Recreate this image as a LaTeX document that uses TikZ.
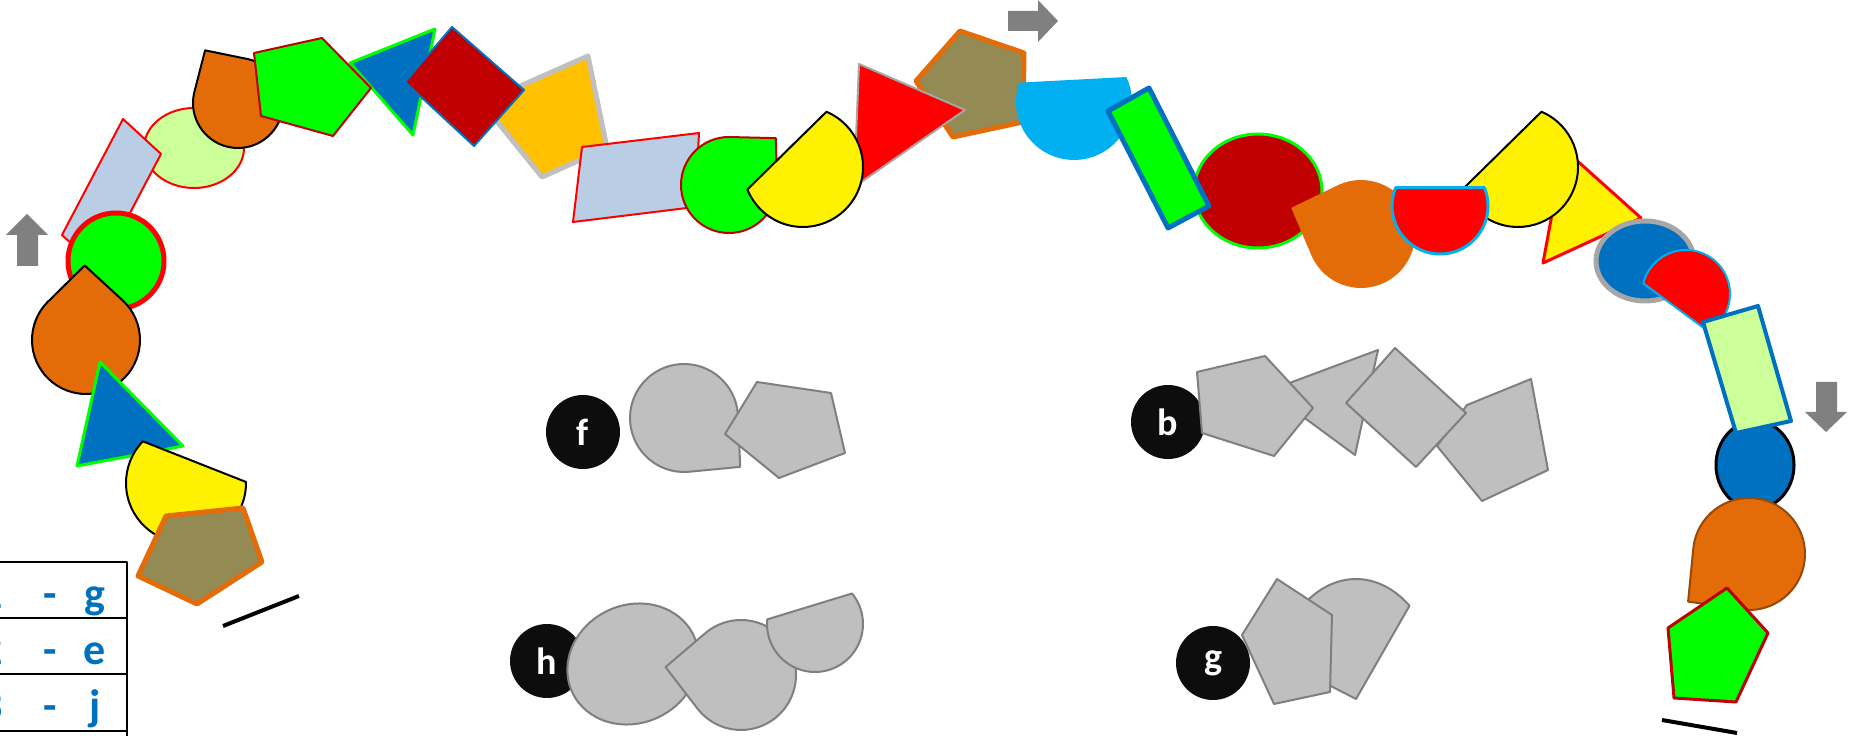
\documentclass[tikz,border=0pt]{standalone}
\usepackage{fontspec}
\setmainfont{Carlito}
\usepackage{tikz}
\usepackage{xcolor}

\definecolor{lineblue}{HTML}{0070C0}
\definecolor{brightgreen}{HTML}{00FF00}
\definecolor{burnt}{HTML}{E36C09}
\definecolor{khaki}{HTML}{948A54}
\definecolor{deepred}{HTML}{C00000}
\definecolor{palegreen}{HTML}{CCFF99}
\definecolor{paleblue}{HTML}{B9CDE5}
\definecolor{amber}{HTML}{FFC000}
\definecolor{silverline}{HTML}{C0C0C0}
\definecolor{sky}{HTML}{00B0F0}
\definecolor{midgray}{HTML}{A6A6A6}
\definecolor{shapegray}{HTML}{BFBFBF}
\definecolor{edgegray}{HTML}{7F7F7F}
\definecolor{arrowgray}{HTML}{808080}
\definecolor{brownedge}{HTML}{984807}
\definecolor{tagblack}{HTML}{0D0D0D}

\begin{document}
\begin{tikzpicture}[x=1pt, y=1pt, line join=round,
    teardrop/.pic={\path[pic actions] (45:{1.38*#1}) -- (90:#1)
      arc[start angle=90, end angle=360, radius=#1] -- cycle;},
    chord/.pic={\path[pic actions] (22.5:#1)
      arc[start angle=22.5, end angle=-202.5, radius=#1] -- cycle;},
    yellowbit/.style={fill=yellow, draw=black, line width=2pt},
    orangebit/.style={fill=burnt, draw=black, line width=2pt},
    bluetri/.style={fill=lineblue, draw=brightgreen, line width=3pt},
    khakibit/.style={fill=khaki, draw=burnt, line width=5pt},
    greenbit/.style={fill=brightgreen, draw=deepred, line width=2pt},
    paperbit/.style={fill=paleblue, draw=red, line width=2pt},
    redbit/.style={fill=red, draw=sky, line width=3pt},
    graybit/.style={fill=shapegray, draw=edgegray, line width=2pt},
    tag/.style={circle, fill=tagblack, minimum size=74pt, inner sep=0pt,
      text=white, font=\fontsize{38}{38}\selectfont\bfseries},
    cell/.style={text=lineblue, anchor=base, inner sep=0pt,
      font=\fontsize{44}{44}\selectfont\bfseries},
    turnarrow/.style={fill=arrowgray},
    endbar/.style={line width=4pt}]
  \useasboundingbox (0,0) rectangle (1855,736);

  % left end of the chain
  \path[fill=palegreen, draw=red, line width=2pt] (194,588) ellipse[x radius=50, y radius=40];
  \path[paperbit] (123,617) -- (161,582) -- (100,466) -- (62,501) -- cycle;
  \path[fill=brightgreen, draw=red, line width=5pt] (116,475) circle[radius=48];
  \pic[orangebit, rotate=46] at (86,396) {teardrop=54};
  \path[bluetri] (100,374) -- (183,290) -- (77,270) -- cycle;
  \pic[yellowbit, rotate=-21.5] at (186,253) {chord=60};
  \path[khakibit] (166,220) -- (243,228) -- (262,174) -- (197,132) -- (138,160) -- cycle;
  \draw[endbar] (223,110) -- (299,140);

  % top of the chain
  \pic[orangebit, rotate=77] at (238,633) {teardrop=45};
  \path[bluetri] (435,707) -- (350,673) -- (413,601) -- cycle;
  \path[greenbit] (254,683) -- (322,698) -- (371,648) -- (333,600) -- (261,620) -- cycle;
  \path[fill=amber, draw=silverline, line width=5pt] (588,680) -- (607,588) -- (542,559) -- (482,633) -- cycle;
  \path[fill=deepred, draw=lineblue, line width=2pt] (452,709) -- (524,646) -- (474,590) -- (405,654) -- cycle;
  \path[paperbit] (582,589) -- (699,603) -- (695,529) -- (573,514) -- cycle;
  \pic[greenbit] at (729,551) {teardrop=48};
  \path[khakibit] (960,705) -- (1024,683) -- (1023,614) -- (953,599) -- (916,655) -- cycle;
  \path[fill=red, draw=midgray, line width=2pt] (859,672) -- (965,626) -- (854,549) -- cycle;
  \pic[yellowbit, rotate=44.5] at (803,569) {chord=60};
  \pic[fill=sky, rotate=3] at (1074,634) {chord=58};
  \path[fill=deepred, draw=brightgreen, line width=3pt] (1258,545) ellipse[x radius=64, y radius=57];
  \path[fill=brightgreen, draw=lineblue, line width=5pt] (1108,625) -- (1149,648) -- (1209,530) -- (1168,508) -- cycle;
  \pic[fill=burnt, rotate=114.5] at (1361,502) {teardrop=54};
  \path[fill=yellow, draw=red, line width=3pt] (1564,587) -- (1641,518) -- (1543,473) -- cycle;
  \pic[yellowbit, rotate=44.5] at (1518,569) {chord=60};
  \pic[redbit] at (1440,530) {chord=48};

  % right end of the chain
  \path[fill=lineblue, draw=midgray, line width=5pt] (1645,475) ellipse[x radius=49, y radius=40];
  \pic[redbit, line width=2pt, rotate=143.5] at (1686,442) {chord=44};
  \path[fill=lineblue, draw=black, line width=3pt] (1755,271) ellipse[x radius=39, y radius=44];
  \path[fill=palegreen, draw=lineblue, line width=4pt] (1703,414) -- (1758,430) -- (1791,315) -- (1736,303) -- cycle;
  \pic[fill=burnt, draw=brownedge, line width=2pt, rotate=173] at (1749,182) {teardrop=56};
  \path[greenbit, line width=3pt] (1727,148) -- (1768,103) -- (1736,34) -- (1674,38) -- (1668,108) -- cycle;
  \draw[endbar] (1662,16) -- (1737,3);

  % turning arrows
  \path[turnarrow] (17,470) -- (38,470) -- (38,501) -- (48,501) -- (27,522) -- (6,501) -- (17,501) -- cycle;
  \path[turnarrow] (1008,705) -- (1038,705) -- (1038,694) -- (1058,715) -- (1038,736) -- (1038,725) -- (1008,725) -- cycle;
  \path[turnarrow] (1816,354) -- (1837,354) -- (1837,324) -- (1847,324) -- (1826,304) -- (1805,324) -- (1816,324) -- cycle;

  % group f
  \node[tag] (tagf) at (583,304) {f};
  \pic[graybit, rotate=-86] at (684,318) {teardrop=54};
  \path[graybit] (757,354) -- (831,343) -- (845,283) -- (779,258) -- (725,302) -- cycle;

  % group h
  \node[tag] (tagh) at (547,75) {h};
  \path[graybit, rotate around={25:(633,72)}] (633,72) ellipse[x radius=67, y radius=59];
  \pic[graybit, rotate=129] at (741,61) {teardrop=55};
  \pic[graybit, rotate=17] at (815,112) {chord=48};

  % group b
  \node[tag] (tagb) at (1168,314) {b};
  \path[graybit] (1268,345) -- (1378,386) -- (1355,281) -- cycle;
  \path[graybit] (1197,364) -- (1265,380) -- (1313,328) -- (1274,280) -- (1202,303) -- cycle;
  \path[graybit] (1467,331) -- (1531,357) -- (1548,266) -- (1482,235) -- (1437,290) -- cycle;
  \path[graybit] (1395,388) -- (1466,323) -- (1416,269) -- (1346,333) -- cycle;

  % group g
  \node[tag] (tagg) at (1213,73) {g};
  \path[graybit] (1356,37) -- ++(51:85 and 120)
    arc[start angle=51, end angle=160, x radius=85, y radius=120] -- cycle;
  \path[graybit] (1277,157) -- (1332,121) -- (1330,44) -- (1274,32) -- (1242,101) -- cycle;

  % table
  \draw[line width=2.5pt] (0,174) -- (127,174) -- (127,-5);
  \draw[line width=1.5pt] (0,118) -- (127,118) (0,62) -- (127,62) (0,5) -- (127,5);
  \node[cell, anchor=base east] (numg) at (3,127) {1};
  \node[cell] (dashg) at (50,127) {-};
  \node[cell] (letg) at (95,127) {g};
  \node[cell, anchor=base east] (nume) at (3,71) {2};
  \node[cell] (dashe) at (50,71) {-};
  \node[cell] (lete) at (95,71) {e};
  \node[cell, anchor=base east] (numj) at (3,15) {3};
  \node[cell] (dashj) at (50,15) {-};
  \node[cell] (letj) at (95,15) {j};
\end{tikzpicture}
\end{document}
